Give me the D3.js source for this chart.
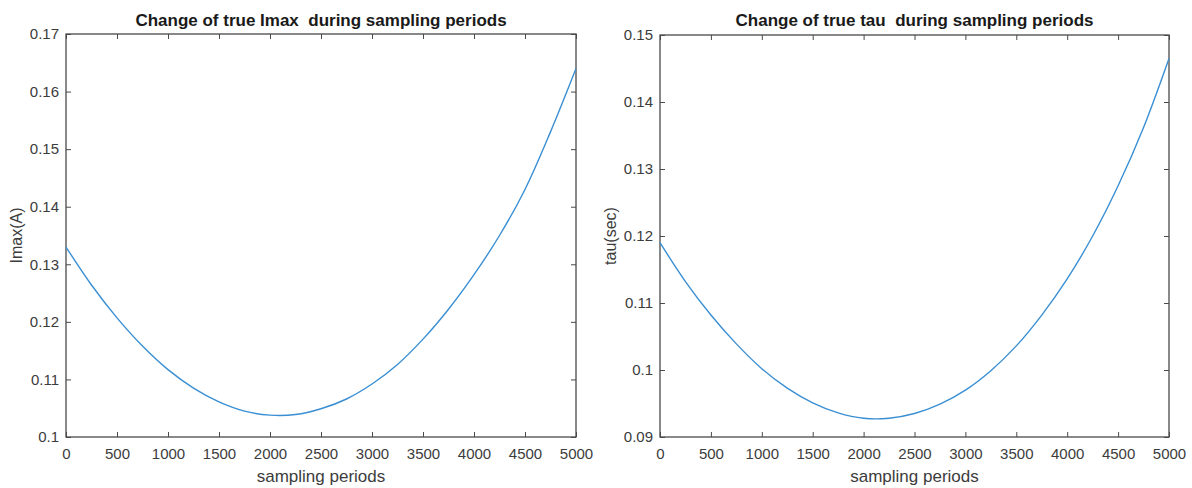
<!DOCTYPE html>
<html>
<head>
<meta charset="utf-8">
<script src="https://cdn.jsdelivr.net/npm/d3@7"></script>
<style>
  body { margin: 0; background: #fff; }
  text { font-family: "Liberation Sans", Arial, sans-serif; }
</style>
</head>
<body>
<script>
// sampling periods (shared x values)
var periods = [0, 250, 500, 750, 1000, 1250, 1500, 1750, 2000, 2250, 2500,
               2750, 3000, 3250, 3500, 3750, 4000, 4250, 4500, 4750, 5000];

// true Imax (A)
var imaxValues = [0.1330, 0.1264, 0.1207, 0.1158, 0.1117, 0.1085, 0.1061, 0.1045,
                  0.1038, 0.1039, 0.1049, 0.1066, 0.1092, 0.1126, 0.1170, 0.1222,
                  0.1282, 0.1350, 0.1430, 0.1530, 0.1640];

// true tau (sec)
var tauValues = [0.1190, 0.1132, 0.1082, 0.1039, 0.1002, 0.0973, 0.0951, 0.0936,
                 0.0928, 0.0928, 0.0935, 0.0949, 0.0970, 0.0999, 0.1036, 0.1082,
                 0.1136, 0.1200, 0.1275, 0.1362, 0.1465];

var xTicks = [0, 500, 1000, 1500, 2000, 2500, 3000, 3500, 4000, 4500, 5000];
var imaxTicks = [0.1, 0.11, 0.12, 0.13, 0.14, 0.15, 0.16, 0.17];
var tauTicks = [0.09, 0.1, 0.11, 0.12, 0.13, 0.14, 0.15];

var width = 1192, height = 488;

var svg = d3.select("body").append("svg")
    .attr("width", width)
    .attr("height", height);

var axisColor = "#4a4a4a";
var lineColor = "#3a8fd3";

/* draw one matlab-like panel */
function panel(opts) {
    var x = d3.scaleLinear().domain([0, 5000]).range([opts.left, opts.right]);
    var y = d3.scaleLinear().domain(opts.yDomain).range([opts.bottom, opts.top]);

    var fmt = function(d) { return String(+d.toFixed(2)); };

    // bottom axis (ticks inward)
    var gx = svg.append("g")
        .attr("transform", "translate(0," + opts.bottom + ")")
        .call(d3.axisBottom(x).tickValues(xTicks).tickSizeInner(-5).tickSizeOuter(0)
            .tickPadding(11).tickFormat(d3.format("d")));
    // top ticks
    var gxt = svg.append("g")
        .attr("transform", "translate(0," + opts.top + ")")
        .call(d3.axisTop(x).tickValues(xTicks).tickSizeInner(-5).tickSizeOuter(0).tickFormat(""));
    // left axis
    var gy = svg.append("g")
        .attr("transform", "translate(" + opts.left + ",0)")
        .call(d3.axisLeft(y).tickValues(opts.yTicks).tickSizeInner(-5).tickSizeOuter(0)
            .tickPadding(7).tickFormat(fmt));
    // right ticks
    var gyr = svg.append("g")
        .attr("transform", "translate(" + opts.right + ",0)")
        .call(d3.axisRight(y).tickValues(opts.yTicks).tickSizeInner(-5).tickSizeOuter(0).tickFormat(""));

    [gx, gxt, gy, gyr].forEach(function(g) {
        g.select(".domain").remove();
        g.selectAll("line").attr("stroke", axisColor);
        g.selectAll("text")
            .attr("fill", "#3c3c3c")
            .style("font-size", "15px")
            .style("font-family", "'Liberation Sans', Arial, sans-serif");
    });

    // box
    svg.append("rect")
        .attr("x", opts.left)
        .attr("y", opts.top)
        .attr("width", opts.right - opts.left)
        .attr("height", opts.bottom - opts.top)
        .attr("fill", "none")
        .attr("stroke", axisColor)
        .attr("stroke-width", 1.3);

    // curve
    var line = d3.line()
        .x(function(d, i) { return x(periods[i]); })
        .y(function(d) { return y(d); })
        .curve(d3.curveCatmullRom);

    svg.append("path")
        .datum(opts.values)
        .attr("d", line)
        .attr("fill", "none")
        .attr("stroke", lineColor)
        .attr("stroke-width", 1.4);

    // title
    svg.append("text")
        .attr("x", (opts.left + opts.right) / 2)
        .attr("y", 26)
        .attr("text-anchor", "middle")
        .attr("fill", "#1a1a1a")
        .style("font-size", "17px")
        .style("font-weight", "bold")
        .style("white-space", "pre")
        .text(opts.title);

    // x label
    svg.append("text")
        .attr("x", (opts.left + opts.right) / 2)
        .attr("y", 482)
        .attr("text-anchor", "middle")
        .attr("fill", "#3c3c3c")
        .style("font-size", "17px")
        .text("sampling periods");

    // y label
    svg.append("text")
        .attr("transform", "translate(" + opts.yLabelX + "," + ((opts.top + opts.bottom) / 2) + ") rotate(-90)")
        .attr("text-anchor", "middle")
        .attr("fill", "#3c3c3c")
        .style("font-size", "16px")
        .text(opts.yLabel);
}

panel({
    left: 66, right: 576, top: 34, bottom: 437,
    yDomain: [0.1, 0.17], yTicks: imaxTicks, values: imaxValues,
    title: "Change of true Imax  during sampling periods",
    yLabel: "Imax(A)", yLabelX: 22
});

panel({
    left: 660, right: 1169, top: 35, bottom: 437,
    yDomain: [0.09, 0.15], yTicks: tauTicks, values: tauValues,
    title: "Change of true tau  during sampling periods",
    yLabel: "tau(sec)", yLabelX: 616
});
</script>
</body>
</html>
